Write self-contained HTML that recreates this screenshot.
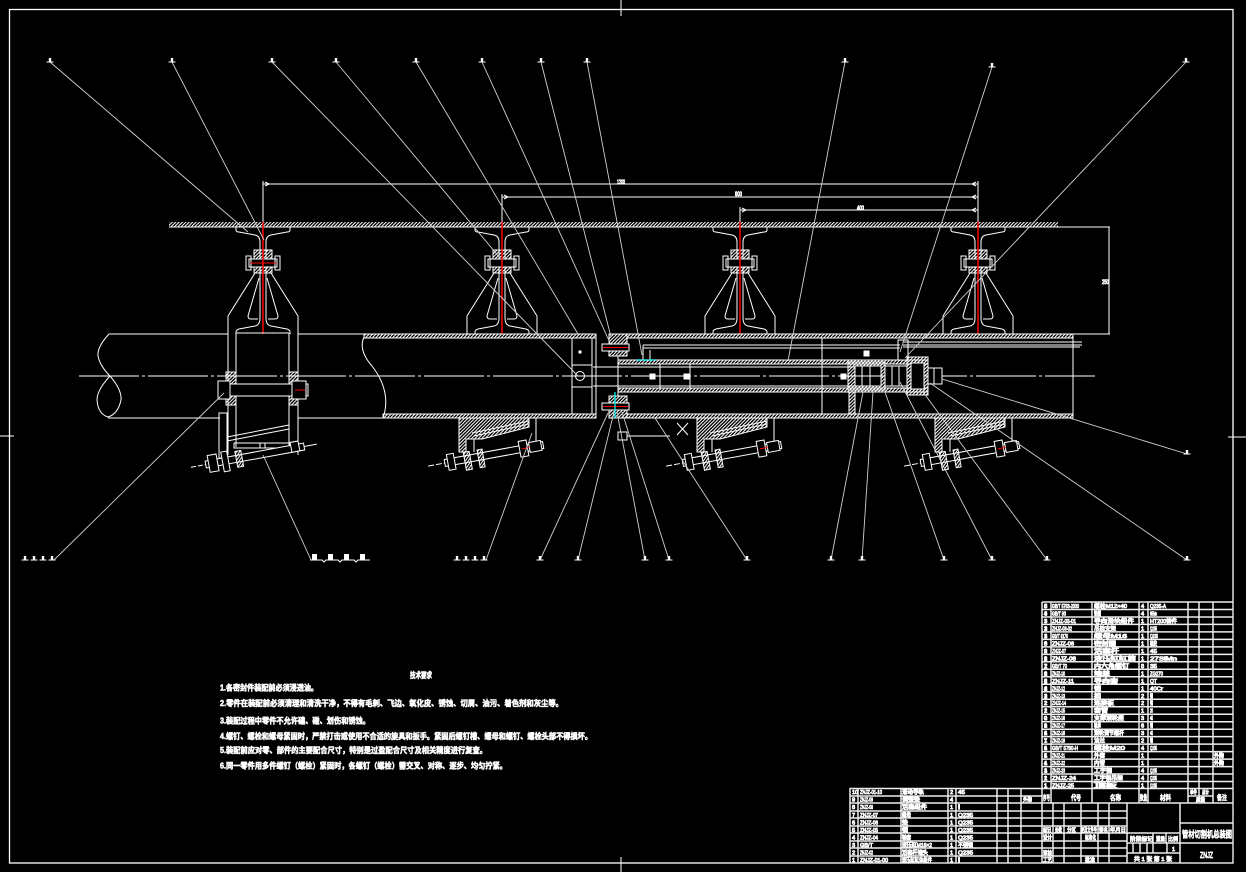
<!DOCTYPE html>
<html><head><meta charset="utf-8"><style>
html,body{margin:0;padding:0;background:#000;}
svg{display:block}
.t{font-family:"Liberation Sans","Noto Sans CJK SC",sans-serif;fill:#fff;stroke:#fff;stroke-width:.85}
.n{font-family:"Liberation Sans","Noto Sans CJK SC",sans-serif;fill:#fff;stroke:#fff;stroke-width:.55;font-weight:bold}
</style></head><body>
<svg xmlns="http://www.w3.org/2000/svg" width="1246" height="872" viewBox="0 0 1246 872">
<defs>
<pattern id="h" width="2.4" height="2.4" patternUnits="userSpaceOnUse" patternTransform="rotate(45)"><rect width="1" height="2.4" fill="#fff"/></pattern>
<g id="m"><path d="M-3.5,0 H3.5" stroke="#fff" stroke-width="1"/><rect x="-1.2" y="-4" width="2.4" height="4" fill="#fff"/></g>
<g id="rail" fill="none" stroke="#fff" stroke-width="1">
 <path d="M-27,227 L-27,230 Q-27,232 -24,232 L-8,235 Q-3,236 -3,242 L-3,318 Q-3,325 -8,326 L-24,329 Q-27,330 -27,332 L-27,334"/>
 <path d="M27,227 L27,230 Q27,232 24,232 L8,235 Q3,236 3,242 L3,318 Q3,325 8,326 L24,329 Q27,330 27,332 L27,334"/>
 <rect x="-9" y="250" width="18" height="23" fill="url(#h)"/>
 <rect x="-14" y="259" width="28" height="8" fill="#000"/>
 <rect x="-17" y="256" width="5" height="14"/>
 <rect x="12" y="256" width="5" height="14"/>
 <path d="M-8,273 L-35,316 L-35,334 M8,273 L35,316 L35,334"/>
 <path d="M-4,278 L-15,316 Q-15,319 -12,319 L-5,319 M4,278 L15,316 Q15,319 12,319 L5,319"/>
 <line x1="0" y1="222" x2="0" y2="334" stroke="#f00" stroke-width="1.5"/>
</g>
<g id="roll" fill="none" stroke="#fff" stroke-width="1">
 <path d="M-43,418 L27,418 L27,427 L-20,439 L-36,439 L-36,452 L-43,452 Z" fill="url(#h)"/>
 <path d="M-36,439 L-28,439 L-28,452 M-30,433 L27,421 M-28,436 L27,424"/>
 <line x1="34" y1="418" x2="34" y2="447"/>
 <g transform="rotate(-10.4 -8 454)">
  <rect x="-58" y="450.5" width="100" height="7" fill="#000"/>
  <rect x="-55" y="446" width="7" height="16" fill="#000"/>
  <rect x="-38" y="447" width="6" height="18" fill="url(#h)"/>
  <rect x="-24" y="447" width="5" height="18" fill="url(#h)"/>
  <rect x="18" y="446" width="8" height="16" fill="#000"/>
  <rect x="28" y="449" width="12" height="10" fill="#000"/>
  <line x1="-75" y1="454" x2="-58" y2="454" stroke-dasharray="6 2"/>
  <line x1="20" y1="454" x2="28" y2="454" stroke="#f00"/>
 </g>
</g>
</defs>
<rect width="1246" height="872" fill="#000"/>

<!-- frame -->
<rect x="9.5" y="9.5" width="1223.5" height="853.5" fill="none" stroke="#fff" stroke-width="1.3"/>
<path d="M621,0 V16 M0,436 H14 M1228,437 H1246 M621,857 V872" stroke="#fff" stroke-width="1"/>

<!-- ceiling -->
<rect x="169" y="222" width="889" height="5" fill="url(#h)"/>
<line x1="169" y1="227" x2="1110" y2="227" stroke="#fff" stroke-width="1"/>

<!-- dimensions -->
<g stroke="#fff" stroke-width="1" fill="none">
 <path d="M263,184 H978 M502,197 H978 M740,210 H978"/>
 <path d="M263,181 V222 M502,194 V222 M740,207 V222 M978,181 V222"/>
 <path d="M1109,227 V334 M978,334 H1110"/>
 <path d="M265,182 l4,2 -4,2 M976,182 l-4,2 4,2 M504,195 l4,2 -4,2 M976,195 l-4,2 4,2 M742,208 l4,2 -4,2 M976,208 l-4,2 4,2"/>
</g>
<text class="t" x="617" y="184" font-size="6" textLength="8" lengthAdjust="spacingAndGlyphs">1200</text>
<text class="t" x="735" y="196" font-size="6" textLength="7" lengthAdjust="spacingAndGlyphs">800</text>
<text class="t" x="857" y="210" font-size="6" textLength="7" lengthAdjust="spacingAndGlyphs">400</text>
<text class="t" x="1102" y="284" font-size="6" textLength="7" lengthAdjust="spacingAndGlyphs">250</text>

<!-- rails -->
<use href="#rail" x="263"/>
<use href="#rail" x="502"/>
<use href="#rail" x="740"/>
<use href="#rail" x="978"/>
<line x1="250" y1="263" x2="276" y2="263" stroke="#f00" stroke-width="1"/>

<!-- centerline -->
<line x1="79" y1="376" x2="1095" y2="376" stroke="#fff" stroke-width="1" stroke-dasharray="60 3 3 3"/>

<!-- left big pipe -->
<g fill="none" stroke="#fff" stroke-width="1">
 <path d="M109,334 H228 M298,334 H364 M108,418 H220 M298,418 H383"/>
 <path d="M109,334 Q97,347 98,356 Q100,366 110,376 Q122,390 121,400 Q118,414 108,417 Q98,414 97,400 Q97,390 110,376"/>
</g>

<!-- hanger 1 -->
<g fill="none" stroke="#fff" stroke-width="1">
 <path d="M228,334 V455 M298,334 V455 M236,333 V447 M289,333 V447 M236,333 H289"/>
 <rect x="226" y="372" width="10" height="33" fill="url(#h)"/>
 <rect x="289" y="372" width="9" height="33" fill="url(#h)"/>
 <rect x="222" y="384" width="86" height="12" fill="#000"/>
 <rect x="218" y="381" width="12" height="18" fill="#000"/>
 <rect x="292" y="381" width="14" height="18" fill="#000"/>
 <line x1="295" y1="390" x2="305" y2="390" stroke="#f00"/>
 <rect x="219" y="413" width="8" height="45"/>
 <path d="M227,437 L289,425 M227,441 L289,429"/>
 <rect x="234" y="443" width="56" height="5"/>
 <path d="M260,443 V448 M265,443 V448"/>
 <g transform="rotate(-10.4 255 456)">
  <rect x="205" y="452" width="100" height="7" fill="#000"/>
  <rect x="208" y="447" width="9" height="17" fill="#000"/>
  <rect x="222" y="446" width="6" height="20" fill="#000"/>
  <rect x="236" y="448" width="6" height="16" fill="url(#h)"/>
  <rect x="292" y="449" width="8" height="10" fill="#000"/>
  <line x1="190" y1="455.5" x2="205" y2="455.5" stroke-dasharray="5 2"/>
  <line x1="305" y1="455.5" x2="318" y2="455.5"/>
 </g>
</g>

<!-- rollers -->
<use href="#roll" x="502"/>
<use href="#roll" x="740"/>
<use href="#roll" x="978"/>

<!-- tube -->
<g fill="none" stroke="#fff" stroke-width="1">
 <rect x="364" y="334" width="232" height="4" fill="url(#h)"/>
 <rect x="383" y="414" width="213" height="4" fill="url(#h)"/>
 <path d="M364,337 Q358,350 372,366 Q392,392 383,418"/>
 <path d="M572,338 V414 M592,338 V414 M596,334 V418"/>
 <rect x="572" y="365" width="20" height="22"/>
 <circle cx="580" cy="376" r="4.5"/>
 <rect x="579" y="351" width="2" height="2" fill="#fff"/>
 <!-- flange -->
 <rect x="609" y="334" width="18" height="22" fill="url(#h)"/>
 <rect x="609" y="396" width="18" height="22" fill="url(#h)"/>
 <rect x="602" y="344" width="27" height="7" fill="#000"/>
 <rect x="602" y="403" width="27" height="7" fill="#000"/>
 <line x1="603" y1="347.5" x2="628" y2="347.5" stroke="#f00"/>
 <line x1="603" y1="406.5" x2="628" y2="406.5" stroke="#f00"/>
 <line x1="615" y1="392" x2="615" y2="418" stroke="#0ff" stroke-width="1.2"/>
 <!-- outer tube right -->
 <rect x="627" y="334" width="446" height="4" fill="url(#h)"/>
 <rect x="627" y="414" width="446" height="4" fill="url(#h)"/>
 <path d="M1073,334 V418 M903,342 H1082 M903,345 H1082 M903,347 H1080"/>
 <path d="M822,338 V414"/>
 <!-- inner cylinder -->
 <rect x="618" y="360" width="310" height="4" fill="url(#h)"/>
 <rect x="618" y="388" width="310" height="4" fill="url(#h)"/>
 <path d="M618,356 V396"/>
 <path d="M593,367 H860 M593,386 H860 M660,364 V390 M690,364 V390"/>
 <path d="M643,345 H900 M643,348 H900 M643,345 V360 M650,350 V360"/>
 <line x1="637" y1="360" x2="656" y2="360" stroke="#0ff" stroke-width="1.5" stroke-dasharray="4 2"/>
 <rect x="898" y="340" width="10" height="20"/>
 <!-- piston etc -->
 <rect x="848" y="362" width="37" height="28" fill="url(#h)"/>
 <rect x="855" y="366" width="26" height="20" fill="#000"/>
 <path d="M862,366 V386 M870,366 V386 M855,376 H881"/>
 <rect x="885" y="366" width="22" height="20" fill="#000"/>
 <path d="M892,366 V386 M899,366 V386"/>
 <rect x="907" y="357" width="21" height="38" fill="url(#h)"/>
 <rect x="911" y="363" width="13" height="26" fill="#000"/>
 <rect x="928" y="368" width="14" height="16" fill="#000"/>
 <path d="M934,368 V384"/>
 <rect x="849" y="392" width="6" height="22" fill="url(#h)"/>
 <rect x="650" y="374" width="5" height="5" fill="#fff"/>
 <rect x="684" y="374" width="5" height="5" fill="#fff"/>
 <rect x="841" y="374" width="5" height="5" fill="#fff"/>
 <rect x="864" y="351" width="5" height="5" fill="#fff"/>
 <!-- small square & X -->
 <rect x="618" y="432" width="9" height="8"/>
 <path d="M627,436 H670 M677,423 L688,435 M688,423 L677,435"/>
</g>

<!-- leaders -->
<g stroke="#d0d0d0" stroke-width="0.9" fill="none">
 <path d="M50,62 L248,232 M172,62 L264,240 M272,62 L578,376 M336,62 L500,258 M416,62 L578,334 M482,62 L611,345 M541,62 L611,337 M587,62 L642,355 M845,62 L788,361 M992,67 L900,352 M1186,62 L905,358"/>
 <path d="M54,560 L224,393 M311,560 L263,455 M486,560 L532,433 M540,560 L608,413 M578,560 L614,412 M645,560 L617,412 M669,560 L622,412 M747,560 L655,418 M831,560 L863,392 M862,560 L873,392 M944,560 L885,392 M992,560 L900,382 M1047,560 L923,392 M1187,560 L930,383 M1187,454 L942,379"/>
</g>
<!-- leader marks -->
<use href="#m" x="50" y="62"/><use href="#m" x="172" y="62"/><use href="#m" x="272" y="62"/><use href="#m" x="336" y="62"/><use href="#m" x="416" y="62"/><use href="#m" x="482" y="62"/><use href="#m" x="541" y="62"/><use href="#m" x="587" y="62"/><use href="#m" x="845" y="62"/><use href="#m" x="992" y="67"/><use href="#m" x="1186" y="62"/>
<use href="#m" x="25" y="560"/><use href="#m" x="34" y="560"/><use href="#m" x="43" y="560"/><use href="#m" x="52" y="560"/>
<use href="#m" x="457" y="560"/><use href="#m" x="466" y="560"/><use href="#m" x="475" y="560"/><use href="#m" x="484" y="560"/>
<use href="#m" x="540" y="560"/><use href="#m" x="578" y="560"/><use href="#m" x="645" y="560"/><use href="#m" x="669" y="560"/><use href="#m" x="747" y="560"/><use href="#m" x="831" y="560"/><use href="#m" x="862" y="560"/><use href="#m" x="944" y="560"/><use href="#m" x="992" y="560"/><use href="#m" x="1047" y="560"/><use href="#m" x="1187" y="560"/><use href="#m" x="1187" y="454"/>
<g fill="#fff"><rect x="312" y="554" width="5" height="6"/><rect x="328" y="554" width="5" height="6"/><rect x="344" y="554" width="5" height="6"/><rect x="360" y="554" width="5" height="6"/></g>
<path d="M310,560 H322 L324,562 L326,560 H338 L340,562 L342,560 H354 L356,562 L358,560 H370" stroke="#fff" fill="none" stroke-width="1"/>

<!-- technical notes -->
<g class="n" font-size="8">
<text x="410" y="678" textLength="22" lengthAdjust="spacingAndGlyphs">技术要求</text>
<text x="220" y="690.5" textLength="98" lengthAdjust="spacingAndGlyphs">1.各密封件装配前必须浸透油。</text>
<text x="220" y="706" textLength="343" lengthAdjust="spacingAndGlyphs">2.零件在装配前必须清理和清洗干净，不得有毛刺、飞边、氧化皮、锈蚀、切屑、油污、着色剂和灰尘等。</text>
<text x="220" y="723.5" textLength="150" lengthAdjust="spacingAndGlyphs">3.装配过程中零件不允许磕、碰、划伤和锈蚀。</text>
<text x="220" y="739" textLength="372" lengthAdjust="spacingAndGlyphs">4.螺钉、螺栓和螺母紧固时，严禁打击或使用不合适的旋具和扳手。紧固后螺钉槽、螺母和螺钉、螺栓头部不得损坏。</text>
<text x="220" y="753" textLength="267" lengthAdjust="spacingAndGlyphs">5.装配前应对零、部件的主要配合尺寸，特别是过盈配合尺寸及相关精度进行复查。</text>
<text x="220" y="768.5" textLength="287" lengthAdjust="spacingAndGlyphs">6.同一零件用多件螺钉（螺栓）紧固时，各螺钉（螺栓）需交叉、对称、逐步、均匀拧紧。</text>
</g>

<!-- title block lines -->
<g stroke="#eee" stroke-width="1.5" fill="none">
 <path d="M1042,602 H1233 M1042,609.5 H1233 M1042,617 H1233 M1042,624.4 H1233 M1042,631.9 H1233 M1042,639.4 H1233 M1042,646.9 H1233 M1042,654.4 H1233 M1042,661.8 H1233 M1042,669.3 H1233 M1042,676.8 H1233 M1042,684.3 H1233 M1042,691.8 H1233 M1042,699.2 H1233 M1042,706.7 H1233 M1042,714.2 H1233 M1042,721.7 H1233 M1042,729.2 H1233 M1042,736.6 H1233 M1042,744.1 H1233 M1042,751.6 H1233 M1042,759.1 H1233 M1042,766.6 H1233 M1042,774 H1233 M1042,781.5 H1233 M850,788.5 H1233 M850,803 H1233"/>
 <path d="M1042,602 V863 M1051,602 V803 M1092,602 V803 M1139,602 V803 M1148,602 V803 M1188,602 V803 M1199,602 V796 M1213,602 V803 M1188,796 H1213"/>
 <path d="M850,796 H1042 M850,811 H1042 M850,818 H1042 M850,826 H1042 M850,833 H1042 M850,841 H1042 M850,848 H1042 M850,856 H1042"/>
 <path d="M850,788 V863 M858,788 V863 M901,788 V863 M948,788 V863 M956,788 V863 M997,788 V863 M1008,788 V863 M1021,788 V863"/>
 <path d="M1042,811 H1127 M1042,818 H1127 M1042,826 H1127 M1042,833 H1127 M1042,841 H1127 M1042,848 H1127 M1042,856 H1127"/>
 <path d="M1053,803 V863 M1064,803 V863 M1081,803 V863 M1098,803 V863 M1109,803 V863 M1127,803 V863 M1180,803 V863"/>
 <path d="M1127,833 H1180 M1127,843 H1180 M1127,853 H1180 M1153,833 V843 M1166,833 V843 M1133,843 V853 M1140,843 V853 M1147,843 V853 M1153,843 V853 M1167,843 V853"/>
 <path d="M1180,823 H1233 M1180,843 H1233"/>
</g>

<!-- parts list text -->
<g class="t" font-size="5.6">
<text x="1044" y="608" textLength="3">35</text><text x="1052" y="608" textLength="27" lengthAdjust="spacingAndGlyphs">GB/T 5783-2000</text><text x="1094" y="608" textLength="33" lengthAdjust="spacingAndGlyphs">螺栓M12×40</text><text x="1141" y="608">4</text><text x="1150" y="608" textLength="16" lengthAdjust="spacingAndGlyphs">Q235-A</text>
<text x="1044" y="615.5" textLength="3">34</text><text x="1052" y="615.5" textLength="14" lengthAdjust="spacingAndGlyphs">GB/T 93</text><text x="1094" y="615.5" textLength="7" lengthAdjust="spacingAndGlyphs">垫圈</text><text x="1141" y="615.5">4</text><text x="1150" y="615.5" textLength="7" lengthAdjust="spacingAndGlyphs">65Mn</text>
<text x="1044" y="623" textLength="3">33</text><text x="1052" y="623" textLength="24" lengthAdjust="spacingAndGlyphs">ZNJZ-03-01</text><text x="1094" y="623" textLength="40" lengthAdjust="spacingAndGlyphs">导向滑块组件</text><text x="1141" y="623">1</text><text x="1150" y="623" textLength="27" lengthAdjust="spacingAndGlyphs">HT200铸件</text>
<text x="1044" y="630.4" textLength="3">32</text><text x="1052" y="630.4" textLength="20" lengthAdjust="spacingAndGlyphs">ZNJZ-03-02</text><text x="1094" y="630.4" textLength="22" lengthAdjust="spacingAndGlyphs">吊挂支架</text><text x="1141" y="630.4">1</text><text x="1150" y="630.4" textLength="7" lengthAdjust="spacingAndGlyphs">Q235</text>
<text x="1044" y="637.9" textLength="3">31</text><text x="1052" y="637.9" textLength="16" lengthAdjust="spacingAndGlyphs">GB/T 6170</text><text x="1094" y="637.9" textLength="33" lengthAdjust="spacingAndGlyphs">螺母M16</text><text x="1141" y="637.9">1</text><text x="1150" y="637.9" textLength="8" lengthAdjust="spacingAndGlyphs">Q235</text>
<text x="1044" y="645.4" textLength="3">30</text><text x="1052" y="645.4" textLength="22" lengthAdjust="spacingAndGlyphs">ZNJZ-06</text><text x="1094" y="645.4" textLength="22" lengthAdjust="spacingAndGlyphs">密封圈</text><text x="1141" y="645.4">1</text><text x="1150" y="645.4" textLength="7" lengthAdjust="spacingAndGlyphs">橡胶</text>
<text x="1044" y="652.9" textLength="3">29</text><text x="1052" y="652.9" textLength="14" lengthAdjust="spacingAndGlyphs">ZNJZ-07</text><text x="1094" y="652.9" textLength="25" lengthAdjust="spacingAndGlyphs">活塞杆</text><text x="1141" y="652.9">1</text><text x="1150" y="652.9" textLength="7" lengthAdjust="spacingAndGlyphs">45</text>
<text x="1044" y="660.4" textLength="3">28</text><text x="1052" y="660.4" textLength="24" lengthAdjust="spacingAndGlyphs">ZNJZ-08</text><text x="1094" y="660.4" textLength="42" lengthAdjust="spacingAndGlyphs">液压缸缸筒</text><text x="1141" y="660.4">1</text><text x="1150" y="660.4" textLength="27" lengthAdjust="spacingAndGlyphs">27SiMn</text>
<text x="1044" y="667.8" textLength="3">27</text><text x="1052" y="667.8" textLength="15" lengthAdjust="spacingAndGlyphs">GB/T 70</text><text x="1094" y="667.8" textLength="35" lengthAdjust="spacingAndGlyphs">内六角螺钉</text><text x="1141" y="667.8">8</text><text x="1150" y="667.8" textLength="7" lengthAdjust="spacingAndGlyphs">35</text>
<text x="1044" y="675.3" textLength="3">26</text><text x="1052" y="675.3" textLength="13" lengthAdjust="spacingAndGlyphs">ZNJZ-10</text><text x="1094" y="675.3" textLength="16" lengthAdjust="spacingAndGlyphs">端盖</text><text x="1141" y="675.3">1</text><text x="1150" y="675.3" textLength="13" lengthAdjust="spacingAndGlyphs">ZG270</text>
<text x="1044" y="682.8" textLength="3">25</text><text x="1052" y="682.8" textLength="22" lengthAdjust="spacingAndGlyphs">ZNJZ-11</text><text x="1094" y="682.8" textLength="24" lengthAdjust="spacingAndGlyphs">导向套</text><text x="1141" y="682.8">1</text><text x="1150" y="682.8" textLength="7" lengthAdjust="spacingAndGlyphs">QT</text>
<text x="1044" y="690.3" textLength="3">24</text><text x="1052" y="690.3" textLength="13" lengthAdjust="spacingAndGlyphs">ZNJZ-12</text><text x="1094" y="690.3" textLength="7" lengthAdjust="spacingAndGlyphs">销</text><text x="1141" y="690.3">1</text><text x="1150" y="690.3" textLength="13" lengthAdjust="spacingAndGlyphs">40Cr</text>
<text x="1044" y="697.8" textLength="3">23</text><text x="1052" y="697.8" textLength="13" lengthAdjust="spacingAndGlyphs">ZNJZ-13</text><text x="1094" y="697.8" textLength="7" lengthAdjust="spacingAndGlyphs">挡</text><text x="1141" y="697.8">2</text><text x="1150" y="697.8" textLength="3" lengthAdjust="spacingAndGlyphs">钢</text>
<text x="1044" y="705.2" textLength="3">22</text><text x="1052" y="705.2" textLength="14" lengthAdjust="spacingAndGlyphs">ZNJZ-14</text><text x="1094" y="705.2" textLength="20" lengthAdjust="spacingAndGlyphs">连接板</text><text x="1141" y="705.2">2</text><text x="1150" y="705.2" textLength="3" lengthAdjust="spacingAndGlyphs">钢</text>
<text x="1044" y="712.7" textLength="3">21</text><text x="1052" y="712.7" textLength="13" lengthAdjust="spacingAndGlyphs">ZNJZ-15</text><text x="1094" y="712.7" textLength="14" lengthAdjust="spacingAndGlyphs">套管</text><text x="1141" y="712.7">1</text><text x="1150" y="712.7" textLength="3" lengthAdjust="spacingAndGlyphs">20</text>
<text x="1044" y="720.2" textLength="3">20</text><text x="1052" y="720.2" textLength="13" lengthAdjust="spacingAndGlyphs">ZNJZ-16</text><text x="1094" y="720.2" textLength="30" lengthAdjust="spacingAndGlyphs">支撑滚轮座</text><text x="1141" y="720.2">3</text><text x="1150" y="720.2" textLength="3" lengthAdjust="spacingAndGlyphs">45</text>
<text x="1044" y="727.7" textLength="3">19</text><text x="1052" y="727.7" textLength="13" lengthAdjust="spacingAndGlyphs">ZNJZ-17</text><text x="1094" y="727.7" textLength="7" lengthAdjust="spacingAndGlyphs">轴承</text><text x="1141" y="727.7">6</text><text x="1150" y="727.7" textLength="3" lengthAdjust="spacingAndGlyphs">钢</text>
<text x="1044" y="735.2" textLength="3">18</text><text x="1052" y="735.2" textLength="13" lengthAdjust="spacingAndGlyphs">ZNJZ-18</text><text x="1094" y="735.2" textLength="30" lengthAdjust="spacingAndGlyphs">滚轮调节螺杆</text><text x="1141" y="735.2">3</text><text x="1150" y="735.2" textLength="3" lengthAdjust="spacingAndGlyphs">45</text>
<text x="1044" y="742.6" textLength="3">17</text><text x="1052" y="742.6" textLength="13" lengthAdjust="spacingAndGlyphs">ZNJZ-19</text><text x="1094" y="742.6" textLength="11" lengthAdjust="spacingAndGlyphs">法兰</text><text x="1141" y="742.6">2</text><text x="1150" y="742.6" textLength="3" lengthAdjust="spacingAndGlyphs">钢</text>
<text x="1044" y="750.1" textLength="3">16</text><text x="1052" y="750.1" textLength="26" lengthAdjust="spacingAndGlyphs">GB/T 5780-H</text><text x="1094" y="750.1" textLength="31" lengthAdjust="spacingAndGlyphs">螺栓M20</text><text x="1141" y="750.1">4</text><text x="1150" y="750.1" textLength="7" lengthAdjust="spacingAndGlyphs">Q235</text>
<text x="1044" y="757.6" textLength="3">15</text><text x="1052" y="757.6" textLength="13" lengthAdjust="spacingAndGlyphs">ZNJZ-21</text><text x="1094" y="757.6" textLength="11" lengthAdjust="spacingAndGlyphs">外套</text><text x="1141" y="757.6">1</text><text x="1214" y="757.6" textLength="10" lengthAdjust="spacingAndGlyphs">外购</text>
<text x="1044" y="765.1" textLength="3">14</text><text x="1052" y="765.1" textLength="13" lengthAdjust="spacingAndGlyphs">ZNJZ-22</text><text x="1094" y="765.1" textLength="11" lengthAdjust="spacingAndGlyphs">内管</text><text x="1141" y="765.1">1</text><text x="1214" y="765.1" textLength="10" lengthAdjust="spacingAndGlyphs">外购</text>
<text x="1044" y="772.6" textLength="3">13</text><text x="1052" y="772.6" textLength="13" lengthAdjust="spacingAndGlyphs">ZNJZ-23</text><text x="1094" y="772.6" textLength="18" lengthAdjust="spacingAndGlyphs">工字钢</text><text x="1141" y="772.6">4</text><text x="1150" y="772.6" textLength="7" lengthAdjust="spacingAndGlyphs">Q235</text>
<text x="1044" y="780" textLength="3">12</text><text x="1052" y="780" textLength="24" lengthAdjust="spacingAndGlyphs">ZNJZ-24</text><text x="1094" y="780" textLength="29" lengthAdjust="spacingAndGlyphs">工字钢吊架</text><text x="1141" y="780">4</text><text x="1150" y="780" textLength="7" lengthAdjust="spacingAndGlyphs">Q235</text>
<text x="1044" y="787.5" textLength="3">11</text><text x="1052" y="787.5" textLength="22" lengthAdjust="spacingAndGlyphs">ZNJZ-25</text><text x="1094" y="787.5" textLength="23" lengthAdjust="spacingAndGlyphs">顶板</text><text x="1141" y="787.5">1</text><text x="1150" y="787.5" textLength="7" lengthAdjust="spacingAndGlyphs">Q235</text>
</g>
<g class="t" font-size="7">
<text x="1043" y="800" textLength="7" lengthAdjust="spacingAndGlyphs">序号</text>
<text x="1071" y="800" textLength="10" lengthAdjust="spacingAndGlyphs">代号</text>
<text x="1110" y="800" textLength="11" lengthAdjust="spacingAndGlyphs">名称</text>
<text x="1140" y="800" textLength="7" lengthAdjust="spacingAndGlyphs">数量</text>
<text x="1160" y="800" textLength="11" lengthAdjust="spacingAndGlyphs">材料</text>
<text x="1217" y="800" textLength="10" lengthAdjust="spacingAndGlyphs">备注</text>
</g>
<g class="t" font-size="5">
<text x="1190" y="794" textLength="7" lengthAdjust="spacingAndGlyphs">单件</text>
<text x="1202" y="794" textLength="7" lengthAdjust="spacingAndGlyphs">总计</text>
<text x="1196" y="801.5" textLength="9" lengthAdjust="spacingAndGlyphs">质量</text>
</g>

<!-- lower-left table text -->
<g class="t" font-size="5.6">
<text x="852" y="794">10</text><text x="860" y="794" textLength="22" lengthAdjust="spacingAndGlyphs">ZNJZ-01-10</text><text x="902" y="794" textLength="22" lengthAdjust="spacingAndGlyphs">滑动导轨</text><text x="950" y="794">2</text><text x="958" y="794" textLength="7" lengthAdjust="spacingAndGlyphs">45</text>
<text x="852" y="801.5">9</text><text x="860" y="801.5" textLength="13" lengthAdjust="spacingAndGlyphs">ZNJZ-09</text><text x="902" y="801.5" textLength="18" lengthAdjust="spacingAndGlyphs">调整垫</text><text x="950" y="801.5">4</text><text x="1023" y="801.5" textLength="9" lengthAdjust="spacingAndGlyphs">外购</text>
<text x="852" y="809">8</text><text x="860" y="809" textLength="13" lengthAdjust="spacingAndGlyphs">ZNJZ-08</text><text x="902" y="809" textLength="25" lengthAdjust="spacingAndGlyphs">活塞组件</text><text x="950" y="809">1</text><text x="958" y="809" textLength="2" lengthAdjust="spacingAndGlyphs">钢</text>
<text x="852" y="817">7</text><text x="860" y="817" textLength="18" lengthAdjust="spacingAndGlyphs">ZNJZ-07</text><text x="902" y="817" textLength="9" lengthAdjust="spacingAndGlyphs">螺母</text><text x="950" y="817">1</text><text x="958" y="817" textLength="15" lengthAdjust="spacingAndGlyphs">Q235</text>
<text x="852" y="824.5">6</text><text x="860" y="824.5" textLength="18" lengthAdjust="spacingAndGlyphs">ZNJZ-06</text><text x="902" y="824.5" textLength="6" lengthAdjust="spacingAndGlyphs">垫</text><text x="950" y="824.5">1</text><text x="958" y="824.5" textLength="15" lengthAdjust="spacingAndGlyphs">Q235</text>
<text x="852" y="832">5</text><text x="860" y="832" textLength="18" lengthAdjust="spacingAndGlyphs">ZNJZ-05</text><text x="902" y="832" textLength="6" lengthAdjust="spacingAndGlyphs">销</text><text x="950" y="832">1</text><text x="958" y="832" textLength="15" lengthAdjust="spacingAndGlyphs">Q235</text>
<text x="852" y="839.5">4</text><text x="860" y="839.5" textLength="18" lengthAdjust="spacingAndGlyphs">ZNJZ-04</text><text x="902" y="839.5" textLength="9" lengthAdjust="spacingAndGlyphs">轴套</text><text x="950" y="839.5">1</text><text x="958" y="839.5" textLength="15" lengthAdjust="spacingAndGlyphs">Q235</text>
<text x="852" y="847">3</text><text x="860" y="847" textLength="13" lengthAdjust="spacingAndGlyphs">GB/T</text><text x="902" y="847" textLength="30" lengthAdjust="spacingAndGlyphs">液压缸M16×2</text><text x="950" y="847">1</text><text x="958" y="847" textLength="15" lengthAdjust="spacingAndGlyphs">不锈钢</text>
<text x="852" y="854.5">2</text><text x="860" y="854.5" textLength="13" lengthAdjust="spacingAndGlyphs">ZNJZ-02</text><text x="902" y="854.5" textLength="26" lengthAdjust="spacingAndGlyphs">活塞杆端头</text><text x="950" y="854.5">1</text><text x="958" y="854.5" textLength="15" lengthAdjust="spacingAndGlyphs">Q235</text>
<text x="852" y="862">1</text><text x="860" y="862" textLength="28" lengthAdjust="spacingAndGlyphs">ZNJZ-01-00</text><text x="902" y="862" textLength="30" lengthAdjust="spacingAndGlyphs">液压缸缸体组件</text><text x="950" y="862">1</text><text x="958" y="862" textLength="2" lengthAdjust="spacingAndGlyphs">钢</text>
</g>

<!-- title block right-bottom text -->
<g class="t" font-size="5.6">
<text x="1043" y="832" textLength="8" lengthAdjust="spacingAndGlyphs">标记</text>
<text x="1055" y="832" textLength="7" lengthAdjust="spacingAndGlyphs">处数</text>
<text x="1067" y="832" textLength="9" lengthAdjust="spacingAndGlyphs">分区</text>
<text x="1081" y="832" textLength="16" lengthAdjust="spacingAndGlyphs">更改文件号</text>
<text x="1099" y="832" textLength="9" lengthAdjust="spacingAndGlyphs">签名</text>
<text x="1110" y="832" textLength="16" lengthAdjust="spacingAndGlyphs">年月日</text>
<text x="1043" y="839.5" textLength="9" lengthAdjust="spacingAndGlyphs">设计</text>
<text x="1085" y="839.5" textLength="11" lengthAdjust="spacingAndGlyphs">标准化</text>
<text x="1043" y="855" textLength="9" lengthAdjust="spacingAndGlyphs">审核</text>
<text x="1043" y="862" textLength="9" lengthAdjust="spacingAndGlyphs">工艺</text>
<text x="1085" y="862" textLength="10" lengthAdjust="spacingAndGlyphs">批准</text>
<text x="1130" y="841" textLength="23" lengthAdjust="spacingAndGlyphs">阶段标记</text>
<text x="1156" y="841" textLength="9" lengthAdjust="spacingAndGlyphs">重量</text>
<text x="1168" y="841" textLength="10" lengthAdjust="spacingAndGlyphs">比例</text>
<text x="1172" y="851" textLength="3" lengthAdjust="spacingAndGlyphs">1</text>
<text x="1134" y="861" textLength="38" lengthAdjust="spacingAndGlyphs">共 1 张 第 1 张</text>
</g>
<text class="t" x="1182" y="837.5" font-size="9" textLength="50" lengthAdjust="spacingAndGlyphs">管材切割机总装图</text>
<text class="t" x="1200" y="858" font-size="8" textLength="13" lengthAdjust="spacingAndGlyphs">ZNJZ</text>
</svg>
</body></html>
